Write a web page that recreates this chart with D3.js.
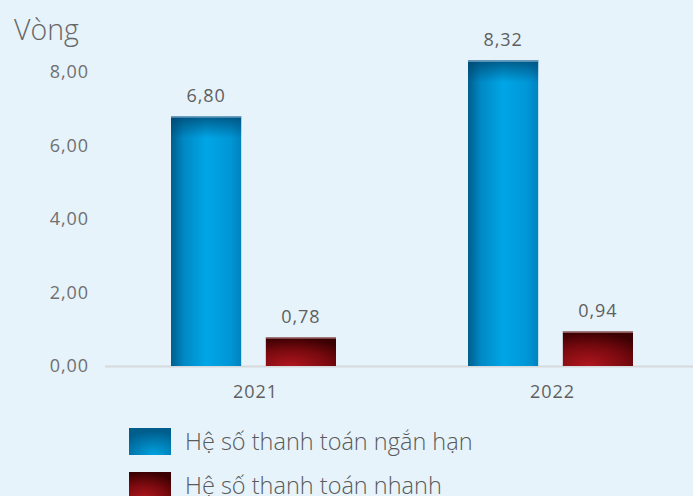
<!DOCTYPE html>
<html>
<head>
<meta charset="utf-8">
<script src="https://cdn.jsdelivr.net/npm/d3@7/dist/d3.min.js"></script>
<style>
  html, body { margin: 0; padding: 0; background: #e6f3fb; }
  svg { display: block; }
  text { font-family: "Open Sans", "Noto Sans", sans-serif; }
  .num { font-family: "Open Sans", sans-serif; letter-spacing: 0.9px; }
</style>
</head>
<body>
<div id="chart"></div>
<script>
// Liquidity ratios by year
const years = ["2021", "2022"];
const seriesNames = ["Hệ số thanh toán ngắn hạn", "Hệ số thanh toán nhanh"];
const currentRatio = [6.80, 8.32];
const quickRatio = [0.78, 0.94];
const yTicks = [0, 2, 4, 6, 8];
const unitLabel = "Vòng";

const W = 693, H = 496;
const svg = d3.select("#chart").append("svg").attr("width", W).attr("height", H);

svg.append("rect").attr("width", W).attr("height", H).attr("fill", "#e6f3fb");

const defs = svg.append("defs");

// Blue bar: darker edges, bright centre, darker top band
const gBlue = defs.append("linearGradient").attr("id", "blueH").attr("x1", 0).attr("x2", 1).attr("y1", 0).attr("y2", 0);
gBlue.append("stop").attr("offset", "0%").attr("stop-color", "#005e8c");
gBlue.append("stop").attr("offset", "18%").attr("stop-color", "#0088c4");
gBlue.append("stop").attr("offset", "50%").attr("stop-color", "#00a6e6");
gBlue.append("stop").attr("offset", "85%").attr("stop-color", "#0096d6");
gBlue.append("stop").attr("offset", "100%").attr("stop-color", "#0082bd");

const gBlueTop = defs.append("linearGradient").attr("id", "blueV").attr("x1", 0).attr("x2", 0).attr("y1", 0).attr("y2", 1);
gBlueTop.append("stop").attr("offset", "0%").attr("stop-color", "#00426a").attr("stop-opacity", 0.75);
gBlueTop.append("stop").attr("offset", "100%").attr("stop-color", "#00426a").attr("stop-opacity", 0);

// Blue legend swatch: glow from the lower middle
const gBlueSw = defs.append("radialGradient").attr("id", "blueSw")
  .attr("cx", "0.6").attr("cy", "1").attr("r", "0.9");
gBlueSw.append("stop").attr("offset", "0%").attr("stop-color", "#00a3e2");
gBlueSw.append("stop").attr("offset", "100%").attr("stop-color", "#005d8c");

// Red bar: radial glow from the lower left
const gRed = defs.append("radialGradient").attr("id", "redR")
  .attr("cx", "0.35").attr("cy", "1").attr("r", "1");
gRed.append("stop").attr("offset", "0%").attr("stop-color", "#b0161f");
gRed.append("stop").attr("offset", "55%").attr("stop-color", "#7a0a0f");
gRed.append("stop").attr("offset", "100%").attr("stop-color", "#3a0002");

const y = d3.scaleLinear().domain([0, 8]).range([366, 72]);
const x0 = d3.scaleBand().domain(years).range([105, 699]);
const x1 = d3.scaleBand().domain([0, 1]).range([66, 231]).paddingInner(0.26).paddingOuter(0);
const fmt = v => d3.format(".2f")(v).replace(".", ",");

// Unit label
svg.append("text").attr("x", 14).attr("y", 40)
  .attr("font-size", 28.5).attr("font-weight", 300).attr("fill", "#666").text(unitLabel);

// Y axis labels
const yAxis = d3.axisLeft(y).tickValues(yTicks).tickFormat(fmt).tickSize(0).tickPadding(0);
const ya = svg.append("g").attr("transform", "translate(89,0)").call(yAxis);
ya.select(".domain").remove();
ya.selectAll("text").attr("class", "num").attr("font-size", 18).attr("fill", "#707070")
  .attr("font-family", null);

// Baseline
svg.append("line").attr("x1", 105).attr("x2", W).attr("y1", 366.5).attr("y2", 366.5)
  .attr("stroke", "#d6dadd").attr("stroke-width", 2);

// Bars
const groups = svg.selectAll("g.year").data(years).enter().append("g")
  .attr("class", "year").attr("transform", d => `translate(${x0(d)},0)`);

const seriesData = [currentRatio, quickRatio];
years.forEach((yr, i) => {
  const g = groups.filter(d => d === yr);
  seriesData.forEach((vals, s) => {
    const bx = x1(s), bw = x1.bandwidth();
    const top = y(vals[i]), h = y(0) - y(vals[i]);
    if (s === 0) {
      g.append("rect").attr("x", bx).attr("y", top).attr("width", bw).attr("height", h).attr("fill", "url(#blueH)");
      g.append("rect").attr("x", bx).attr("y", top).attr("width", bw).attr("height", Math.min(22, h)).attr("fill", "url(#blueV)");
      g.append("rect").attr("x", bx).attr("y", top).attr("width", bw).attr("height", 1.5).attr("fill", "#7aa7c6");
    } else {
      g.append("rect").attr("x", bx).attr("y", top).attr("width", bw).attr("height", h).attr("fill", "url(#redR)");
      g.append("rect").attr("x", bx).attr("y", top).attr("width", bw).attr("height", 1.2).attr("fill", "#b98a8c");
    }
    g.append("text").attr("class", "num").attr("x", bx + bw / 2).attr("y", top - 14)
      .attr("text-anchor", "middle").attr("font-size", 18).attr("fill", "#5f5f5f")
      .text(fmt(vals[i]));
  });
  g.append("text").attr("class", "num").attr("x", x0.bandwidth() / 2 + 2).attr("y", 398)
    .attr("text-anchor", "middle").attr("font-size", 18).attr("fill", "#5f5f5f").text(yr);
});

// Legend
const legend = svg.append("g").attr("transform", "translate(129,428)");
seriesNames.forEach((name, s) => {
  const row = legend.append("g").attr("transform", `translate(0,${s * 44})`);
  row.append("rect").attr("width", 42).attr("height", 27)
    .attr("fill", s === 0 ? "url(#blueSw)" : "url(#redR)");
  row.append("text").attr("x", 56).attr("y", 21.5).attr("font-size", 23.5).attr("font-weight", 300)
    .attr("fill", "#5a5a5a").text(name);
});
</script>
</body>
</html>
